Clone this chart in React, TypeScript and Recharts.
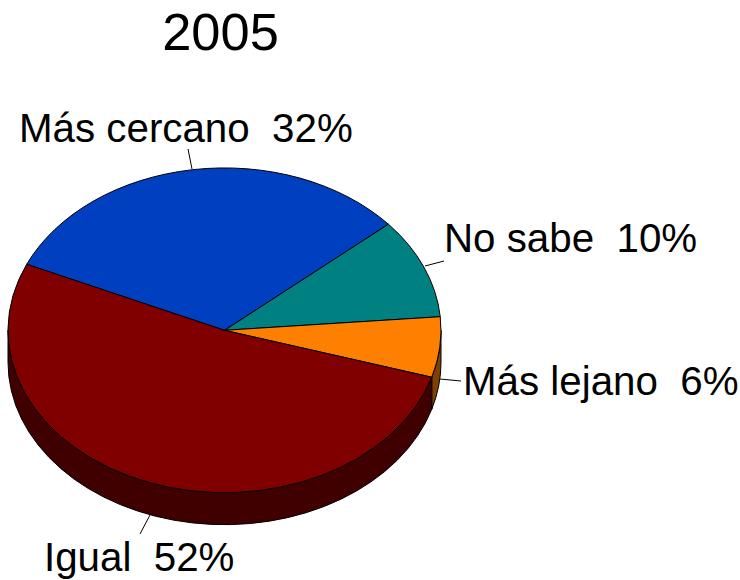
import { Pie, PieChart } from 'recharts';

const categories = ['Más cercano', 'No sabe', 'Más lejano', 'Igual'];
const shares = [32, 10, 6, 52];
const topColors = ['#0040c0', '#008080', '#ff8000', '#800000'];
const wallColors = ['#002060', '#004040', '#804000', '#400000'];

const data = categories.map((name, i) => ({ name, value: shares[i] }));

const FONT = '"Liberation Sans", Arial, sans-serif';
const SQUASH = 0.75;
const DEPTH = 32;
const RAD = Math.PI / 180;

// text anchor and leader line for each slice label
const labelLayout = [
  { x: 19, y: 142, line: [188, 149, 192, 169] },
  { x: 444, y: 252, line: [425, 266, 444, 261] },
  { x: 463, y: 395, line: [440, 379, 461, 381] },
  { x: 44, y: 571, line: [150, 515, 140, 534] },
];

const pointAt = (p: any, angle: number, dy = 0) => ({
  x: p.cx + p.outerRadius * Math.cos(angle * RAD),
  y: p.cy - p.outerRadius * SQUASH * Math.sin(angle * RAD) + dy,
});

function TopSlice(props: any) {
  const { cx, cy, outerRadius, startAngle, endAngle, index } = props;
  const a = pointAt(props, startAngle);
  const b = pointAt(props, endAngle);
  const large = Math.abs(endAngle - startAngle) > 180 ? 1 : 0;
  const rx = outerRadius;
  const ry = outerRadius * SQUASH;
  return (
    <path
      d={`M${cx},${cy} L${a.x},${a.y} A${rx},${ry} 0 ${large} 1 ${b.x},${b.y} Z`}
      fill={topColors[index]}
      stroke="#000"
      strokeWidth={1}
    />
  );
}

// side of the disc: only the part of a slice in the front half shows
function WallSlice(props: any) {
  const { outerRadius, startAngle, endAngle, index } = props;
  const from = Math.min(startAngle, 0);
  const to = Math.max(endAngle, -180);
  if (from <= to) return <g />;
  const rx = outerRadius;
  const ry = outerRadius * SQUASH;
  const a = pointAt(props, from);
  const b = pointAt(props, to);
  const c = pointAt(props, to, DEPTH);
  const d = pointAt(props, from, DEPTH);
  return (
    <path
      d={`M${a.x},${a.y} A${rx},${ry} 0 0 1 ${b.x},${b.y} L${c.x},${c.y} A${rx},${ry} 0 0 0 ${d.x},${d.y} Z`}
      fill={wallColors[index]}
      stroke="#000"
      strokeWidth={1}
    />
  );
}

function SliceLabel(props: any) {
  const { index, name, value } = props;
  const { x, y, line } = labelLayout[index];
  return (
    <g>
      <line x1={line[0]} y1={line[1]} x2={line[2]} y2={line[3]} stroke="#000" strokeWidth={1} />
      <text x={x} y={y} fontFamily={FONT} fontSize={40.3} fill="#000" style={{ whiteSpace: 'pre' }}>
        {`${name}  ${value}%`}
      </text>
    </g>
  );
}

export default function App() {
  return (
    <div style={{ position: 'absolute', left: 0, top: 0, width: 740, height: 580, background: '#fff' }}>
      <PieChart width={740} height={580} margin={{ top: 0, right: 0, bottom: 0, left: 0 }}>
        <text x={220.5} y={50} textAnchor="middle" fontFamily={FONT} fontSize={52.4} fill="#000">
          2005
        </text>
        <Pie
          data={data}
          dataKey="value"
          cx={224.5}
          cy={330.3}
          outerRadius={216.5}
          startAngle={156}
          endAngle={-204}
          shape={WallSlice}
          label={false}
          labelLine={false}
          isAnimationActive={false}
        />
        <Pie
          data={data}
          dataKey="value"
          cx={224.5}
          cy={330.3}
          outerRadius={216.5}
          startAngle={156}
          endAngle={-204}
          shape={TopSlice}
          label={SliceLabel}
          labelLine={false}
          isAnimationActive={false}
        />
      </PieChart>
    </div>
  );
}
